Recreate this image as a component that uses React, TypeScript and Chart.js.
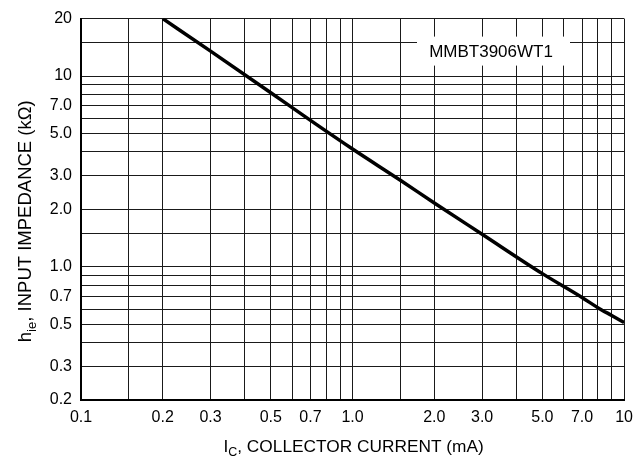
import React, { useEffect, useRef } from "react";
import { Chart, registerables } from "chart.js";

Chart.register(...registerables);

// Data (IC in mA, hie in kΩ)
const collectorCurrentMA = [0.2, 0.3, 0.5, 0.7, 1.0, 1.5, 2.0, 3.0, 5.0, 7.0, 8.0, 9.0, 10];
const inputImpedanceKOhm = [20, 13.5, 8.17, 5.85, 4.14, 2.84, 2.16, 1.48, 0.92, 0.69, 0.61, 0.555, 0.51];

// Grid lines and tick labels
const xGridValues = [0.1, 0.15, 0.2, 0.3, 0.4, 0.5, 0.6, 0.7, 0.8, 0.9, 1, 1.5, 2, 3, 4, 5, 6, 7, 8, 9, 10];
const xLabelValues = [0.1, 0.2, 0.3, 0.5, 0.7, 1, 2, 3, 5, 7, 10];
const xLabelTexts = ["0.1", "0.2", "0.3", "0.5", "0.7", "1.0", "2.0", "3.0", "5.0", "7.0", "10"];
const yGridValues = [0.2, 0.3, 0.4, 0.5, 0.6, 0.7, 0.8, 0.9, 1, 1.5, 2, 3, 4, 5, 6, 7, 8, 9, 10, 15, 20];
const yLabelValues = [0.2, 0.3, 0.5, 0.7, 1, 2, 3, 5, 7, 10, 20];
const yLabelTexts = ["0.2", "0.3", "0.5", "0.7", "1.0", "2.0", "3.0", "5.0", "7.0", "10", "20"];

const deviceLabel = "MMBT3906WT1";
const xTitleParts = ["I", "C", ", COLLECTOR CURRENT (mA)"];
const yTitleParts = ["h", "ie", ", INPUT IMPEDANCE (kΩ)"];

const FAMILY = "'Liberation Sans', Arial, sans-serif";

const labelFor = (vals: number[], texts: string[]) => (v: any) => {
  const n = Number(v);
  const i = vals.findIndex((a) => Math.abs(a - n) < 1e-6 * a);
  return i >= 0 ? texts[i] : "";
};

function drawSubTitle(ctx: CanvasRenderingContext2D, parts: string[], size: number, cx: number, baseY: number) {
  const main = `${size}px ${FAMILY}`;
  const sub = `${(size * 0.72).toFixed(1)}px ${FAMILY}`;
  ctx.font = main;
  const w0 = ctx.measureText(parts[0]).width;
  const w2 = ctx.measureText(parts[2]).width;
  ctx.font = sub;
  const w1 = ctx.measureText(parts[1]).width;
  const total = w0 + w1 + w2;
  let x = cx - total / 2;
  ctx.textAlign = "left";
  ctx.textBaseline = "alphabetic";
  ctx.fillStyle = "#000";
  ctx.font = main;
  ctx.fillText(parts[0], x, baseY);
  x += w0;
  ctx.font = sub;
  ctx.fillText(parts[1], x, baseY + size * 0.25);
  x += w1;
  ctx.font = main;
  ctx.fillText(parts[2], x, baseY);
}

const overlayPlugin = {
  id: "overlay",
  afterDraw(chart: any) {
    const ctx: CanvasRenderingContext2D = chart.ctx;
    const area = chart.chartArea;
    ctx.save();
    // device label box
    const bx = area.left + 336;
    const by = area.top + 18;
    ctx.fillStyle = "#fff";
    ctx.fillRect(bx, by, 153, 29);
    ctx.fillStyle = "#000";
    ctx.font = `17px ${FAMILY}`;
    ctx.textAlign = "center";
    ctx.textBaseline = "middle";
    ctx.fillText(deviceLabel, bx + 74, by + 16);
    // x title
    drawSubTitle(ctx, xTitleParts, 17.3, (area.left + area.right) / 2 + 1, area.bottom + 52);
    // y title
    ctx.translate(31, (area.top + area.bottom) / 2 + 12);
    ctx.rotate(-Math.PI / 2);
    drawSubTitle(ctx, yTitleParts, 18.5, 0, 0);
    ctx.restore();
  },
};

export default function App() {
  const ref = useRef<HTMLCanvasElement | null>(null);
  useEffect(() => {
    if (!ref.current) return;
    const chart = new Chart(ref.current, {
      type: "line",
      data: {
        datasets: [
          {
            data: collectorCurrentMA.map((x, i) => ({ x, y: inputImpedanceKOhm[i] })),
            borderColor: "#000",
            borderWidth: 3.5,
            pointRadius: 0,
            cubicInterpolationMode: "monotone",
            fill: false,
          },
        ],
      },
      options: {
        animation: false,
        responsive: false,
        devicePixelRatio: 1,
        layout: { padding: { top: 16, right: 11, left: 0, bottom: 0 } },
        plugins: { legend: { display: false }, tooltip: { enabled: false } },
        scales: {
          x: {
            type: "logarithmic",
            min: 0.1,
            max: 10,
            afterBuildTicks: (s: any) => {
              s.ticks = xGridValues.map((v) => ({ value: v }));
            },
            afterFit: (s: any) => {
              s.height = 62;
            },
            ticks: {
              autoSkip: false,
              maxRotation: 0,
              minRotation: 0,
              padding: 8,
              color: "#000",
              font: { family: FAMILY, size: 16 },
              callback: labelFor(xLabelValues, xLabelTexts),
            },
            grid: { color: "#1a1a1a", lineWidth: 1, drawTicks: false },
            border: { color: "#000", width: 2 },
          },
          y: {
            type: "logarithmic",
            min: 0.2,
            max: 20,
            afterBuildTicks: (s: any) => {
              s.ticks = yGridValues.map((v) => ({ value: v }));
            },
            afterFit: (s: any) => {
              s.width = 81;
            },
            ticks: {
              autoSkip: false,
              padding: 9,
              color: "#000",
              font: { family: FAMILY, size: 16 },
              callback: labelFor(yLabelValues, yLabelTexts),
            },
            grid: { color: "#1a1a1a", lineWidth: 1, drawTicks: false },
            border: { color: "#000", width: 2 },
          },
        },
      },
      plugins: [overlayPlugin],
    });
    return () => chart.destroy();
  }, []);
  return (
    <div style={{ position: "absolute", left: 0, top: 0, width: 641, height: 462, background: "#fff" }}>
      <canvas ref={ref} width={641} height={462} style={{ display: "block" }} />
    </div>
  );
}
